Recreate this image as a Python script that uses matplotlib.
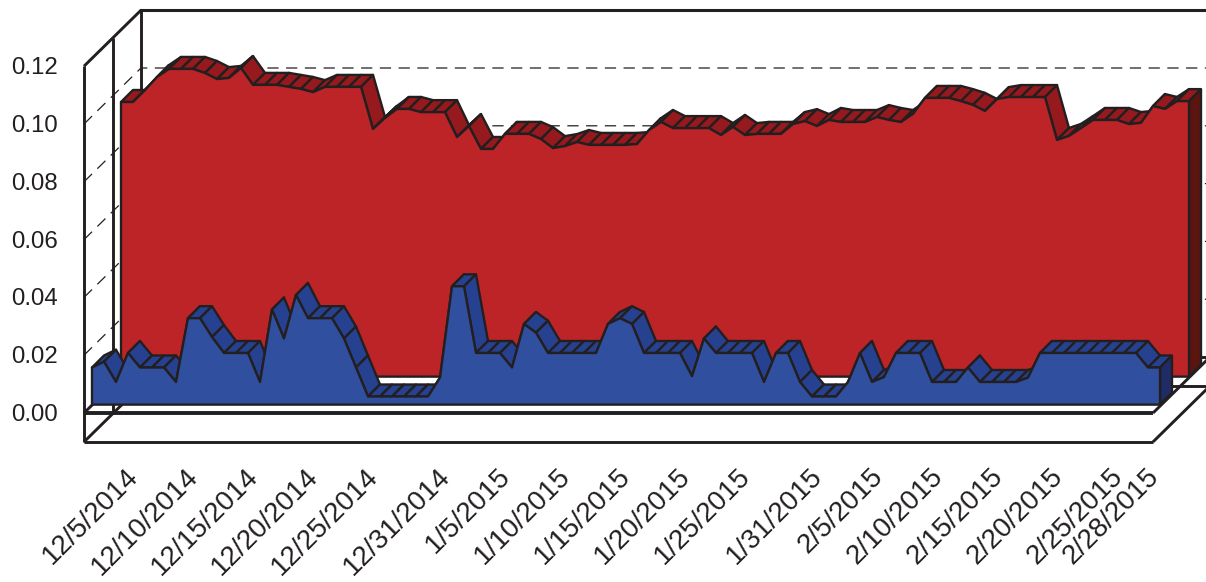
import matplotlib
matplotlib.use('Agg')
import matplotlib.pyplot as plt
from matplotlib.patches import Polygon

plt.rcParams['font.family'] = ['Liberation Sans', 'DejaVu Sans']

# daily values, 12/1/2014 to 2/28/2015
blue = [0.015, 0.017, 0.010, 0.020, 0.015, 0.015, 0.015, 0.010,
        0.032, 0.032, 0.0255, 0.020, 0.020, 0.020, 0.010,
        0.035, 0.025, 0.040, 0.032, 0.032, 0.032, 0.025, 0.015,
        0.005, 0.005, 0.005, 0.005, 0.005, 0.005, 0.0115,
        0.043, 0.043, 0.020, 0.020, 0.020, 0.015, 0.030, 0.027,
        0.020, 0.020, 0.020, 0.020, 0.020, 0.030, 0.032, 0.030,
        0.020, 0.020, 0.020, 0.020, 0.012, 0.025,
        0.020, 0.020, 0.020, 0.020, 0.010, 0.020, 0.020, 0.010,
        0.005, 0.005, 0.005, 0.010, 0.020, 0.010, 0.0117,
        0.020, 0.020, 0.020, 0.010, 0.010, 0.010, 0.015,
        0.010, 0.010, 0.010, 0.010, 0.0115,
        0.020, 0.020, 0.020, 0.020, 0.020, 0.020, 0.020, 0.020, 0.020,
        0.015, 0.015]

red = [0.0969, 0.0969, 0.1010, 0.1055, 0.1083, 0.1083, 0.1083, 0.1069, 0.1048, 0.1052,
       0.1086, 0.1028, 0.1028, 0.1028, 0.1021, 0.1014, 0.1003, 0.1021, 0.1021, 0.1021,
       0.1021, 0.0876, 0.0914, 0.0945, 0.0945, 0.0934, 0.0934, 0.0934, 0.0848, 0.0886,
       0.0807, 0.0807, 0.0859, 0.0859, 0.0859, 0.0841, 0.0810, 0.0817, 0.0831, 0.0821,
       0.0821, 0.0821, 0.0821, 0.0824, 0.0872, 0.0900, 0.0879, 0.0879, 0.0879, 0.0879,
       0.0855, 0.0883, 0.0855, 0.0859, 0.0859, 0.0859, 0.0893, 0.0903, 0.0886, 0.0907,
       0.0900, 0.0900, 0.0900, 0.0917, 0.0907, 0.0900, 0.0928, 0.0983, 0.0983, 0.0983,
       0.0972, 0.0959, 0.0938, 0.0979, 0.0986, 0.0986, 0.0986, 0.0986, 0.0838, 0.0852,
       0.0879, 0.0907, 0.0907, 0.0907, 0.0893, 0.0897, 0.0955, 0.0945, 0.0972, 0.0972]

y_ticks = [0.00, 0.02, 0.04, 0.06, 0.08, 0.10, 0.12]
date_pos = [4, 9, 14, 19, 24, 30, 35, 40, 45, 50, 55, 61, 66, 71, 76, 81, 86, 89]
date_labels = ['12/5/2014', '12/10/2014', '12/15/2014', '12/20/2014', '12/25/2014',
               '12/31/2014', '1/5/2015', '1/10/2015', '1/15/2015', '1/20/2015',
               '1/25/2015', '1/31/2015', '2/5/2015', '2/10/2015', '2/15/2015',
               '2/20/2015', '2/25/2015', '2/28/2015']

# size of one day / one unit of value on the picture
PX_X = 12.0
PX_Y = 2900.0
DARK = '#231f20'
BASE = 0.0022

fig = plt.figure(figsize=(12.06, 5.82), dpi=100)
ax = fig.add_axes([0, 0, 1, 1])
ax.set_xlim(-92 / PX_X, (1206 - 92) / PX_X)
ax.set_ylim((411 - 582) / PX_Y, 411 / PX_Y)
ax.axis('off')


def wall(v, depth=0.0):
    # point on the wall scale: x offset in days, y from value, depth 0..1
    return -8 / PX_X + depth * 57 / PX_X, v * 2890 / PX_Y - 2 / PX_Y + depth * 56 / PX_Y


def seg(a, b, lw=2.1):
    ax.plot([a[0], b[0]], [a[1], b[1]], color=DARK, lw=lw, solid_capstyle='butt', zorder=1)


# dashed grid on side and back wall
right_edge = ax.get_xlim()[1]
for v in y_ticks[1:-1]:
    p0 = wall(v)
    p1 = wall(v, 1)
    ax.plot([p0[0], p1[0], right_edge], [p0[1], p1[1], p1[1]], color=DARK, lw=0.9,
            linestyle=(0, (9, 6)), zorder=1)

# walls and floor
seg(wall(-0.01, 0), wall(0.12, 0))
seg(wall(-0.01, 0.5), wall(0.12, 0.5))
seg(wall(-0.01, 1), wall(0.12, 1))
seg(wall(0.12, 0), wall(0.12, 1))
top_back = wall(0.12, 1)
ax.plot([top_back[0], right_edge], [top_back[1], top_back[1]], color=DARK, lw=2.2, zorder=1)

floor_dx = (1153 - 84) / PX_X
for v, lw in [(0, 2.8), (-0.01, 2.1)]:
    p0 = wall(v)
    p1 = wall(v, 1)
    seg(p0, p1)
    seg(p0, (p0[0] + floor_dx, p0[1]), lw=lw)
    seg((p0[0] + floor_dx, p0[1]), (p1[0] + floor_dx, p1[1]))
    ax.plot([p1[0], right_edge], [p1[1], p1[1]], color=DARK, lw=2.1, zorder=1)


def area(values, dx, dy, front, top, side, z):
    n = len(values)
    d_x = 12 / PX_X
    d_y = 12 / PX_Y
    xs = [i + dx for i in range(n)]
    ys = [v + dy for v in values]
    # top faces, left to right so that the nearer ones cover the others
    for i in range(n - 1):
        quad = [(xs[i], ys[i]), (xs[i + 1], ys[i + 1]),
                (xs[i + 1] + d_x, ys[i + 1] + d_y), (xs[i] + d_x, ys[i] + d_y)]
        ax.add_patch(Polygon(quad, closed=True, facecolor=top, edgecolor=DARK, lw=1.7,
                             joinstyle='round', zorder=z))
    # right end
    base_y = BASE + dy
    quad = [(xs[-1], ys[-1]), (xs[-1] + d_x, ys[-1] + d_y),
            (xs[-1] + d_x, base_y + d_y), (xs[-1], base_y)]
    ax.add_patch(Polygon(quad, closed=True, facecolor=side, edgecolor=DARK, lw=1.7, zorder=z))
    # front
    pts = [(xs[0], base_y)] + list(zip(xs, ys)) + [(xs[-1], base_y)]
    ax.add_patch(Polygon(pts, closed=True, facecolor=front, edgecolor=DARK, lw=1.7,
                         joinstyle='round', zorder=z))


area(red, 29 / PX_X, 28 / PX_Y, '#bc2428', '#961a1d', '#5a1510', 2)
area(blue, 0, 0, '#30509f', '#26418f', '#1f2c66', 3)

# axis labels
for v in y_ticks:
    ax.text(-34 / PX_X, wall(v)[1] - 2 / PX_Y, f'{v:.2f}', ha='right', va='center',
            fontsize=17.3, color=DARK)

for pos, lab in zip(date_pos, date_labels):
    ax.text(pos - 1.2, (411 - 463) / PX_Y, lab, ha='right', va='top', rotation=45,
            rotation_mode='anchor', fontsize=20, color=DARK)

fig.savefig('out.png', dpi=100)
